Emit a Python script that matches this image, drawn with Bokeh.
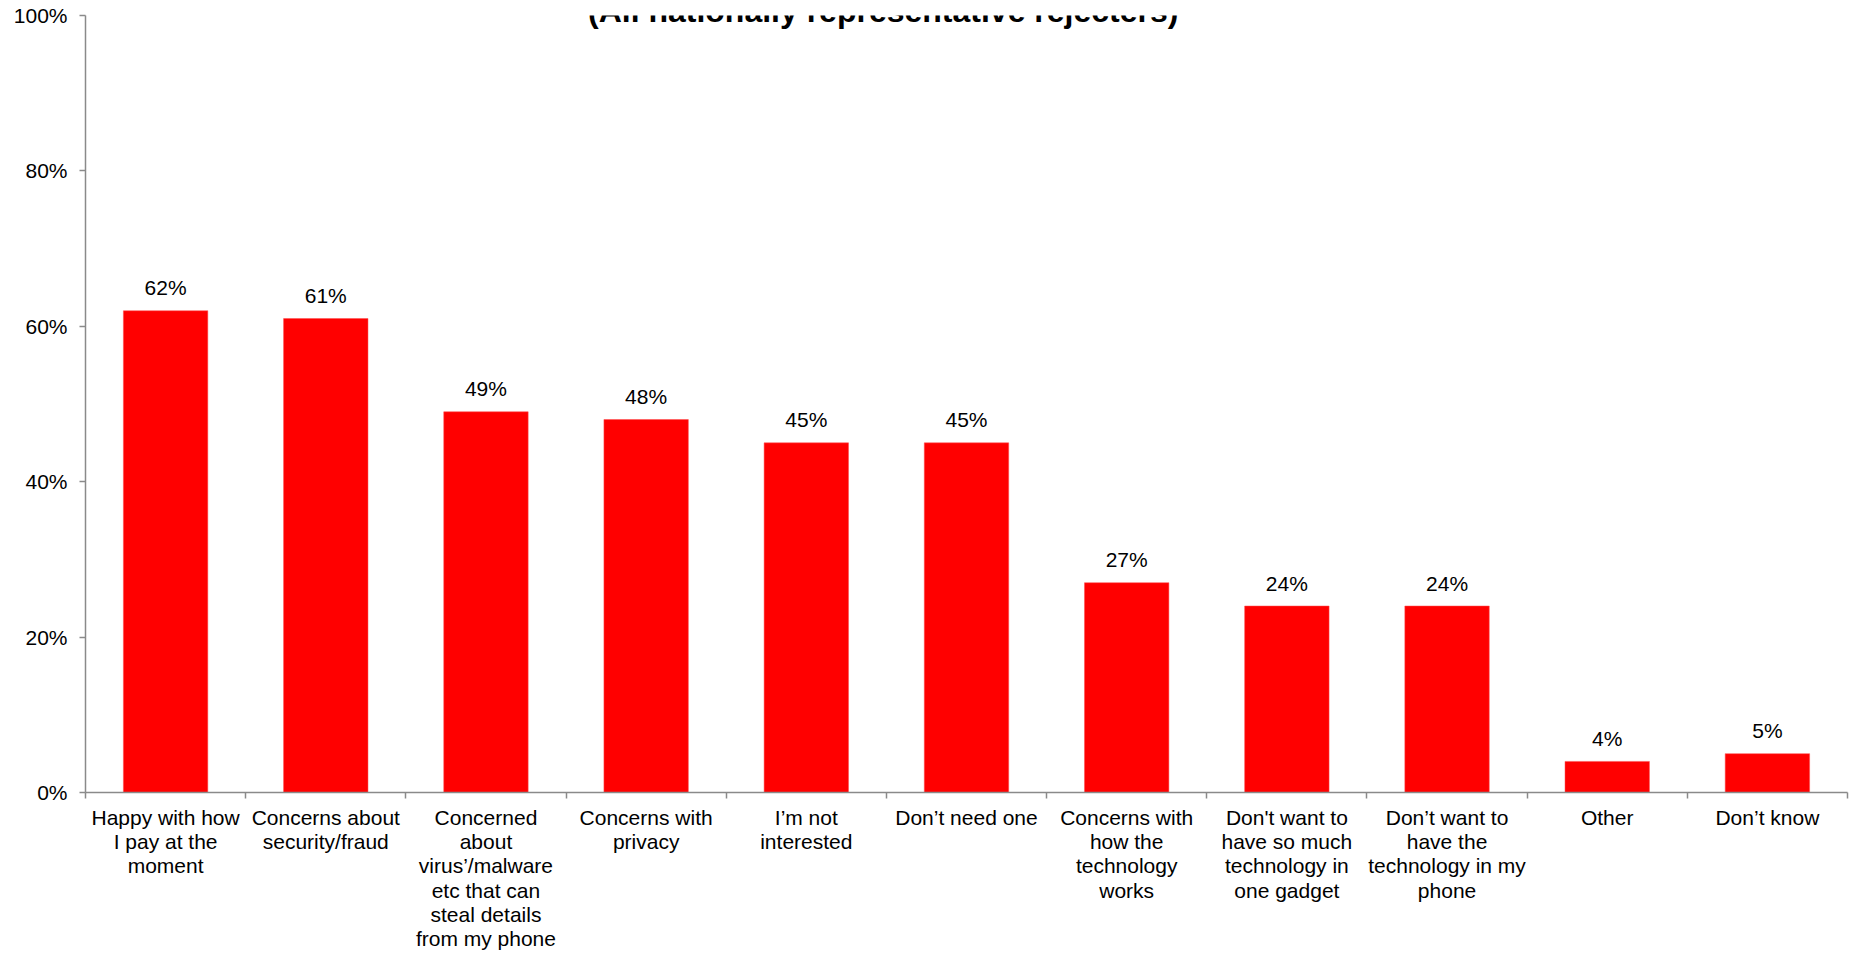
from bokeh.plotting import figure
from bokeh.models import (ColumnDataSource, FixedTicker, Range1d, Label,
                          LinearAxis)
from bokeh.embed import file_html
from bokeh.resources import INLINE
from bokeh.core.properties import value

categories = [
    "Happy with how\nI pay at the\nmoment",
    "Concerns about\nsecurity/fraud",
    "Concerned\nabout\nvirus\u2019/malware\netc that can\nsteal details\nfrom my phone",
    "Concerns with\nprivacy",
    "I\u2019m not\ninterested",
    "Don\u2019t need one",
    "Concerns with\nhow the\ntechnology\nworks",
    "Don't want to\nhave so much\ntechnology in\none gadget",
    "Don\u2019t want to\nhave the\ntechnology in my\nphone",
    "Other",
    "Don\u2019t know",
]
values = [62, 61, 49, 48, 45, 45, 27, 24, 24, 4, 5]
value_labels = [f"{v}%" for v in values]
y_ticks = [0, 20, 40, 60, 80, 100]
y_tick_labels = [f"{t}%" for t in y_ticks]
title_text = "(All nationally representative rejecters)"

n = len(categories)
centers = [i + 0.5 for i in range(n)]
bounds = [float(i) for i in range(n + 1)]

src = ColumnDataSource(dict(x=centers, top=values, lab=value_labels))

FONT = "Liberation Sans"
AXIS_COLOR = "#8a8a8a"

p = figure(frame_width=1762, frame_height=777, output_backend="svg",
           toolbar_location=None, x_range=Range1d(0, n), y_range=Range1d(0, 100),
           min_border_left=85, min_border_right=7, min_border_top=15,
           min_border_bottom=0, x_axis_type=None, y_axis_type=None)
p.title = None
p.outline_line_color = None
p.background_fill_color = "white"
p.border_fill_color = "white"

p.vbar(x="x", top="top", bottom=0, width=0.527, source=src,
       fill_color="#ff0000", line_color="#ff4d4d", line_width=0.5)

p.text(x="x", y="top", text="lab", source=src, text_align="center",
       text_baseline="alphabetic", y_offset=-23,
       text_font=value(FONT), text_font_size="21px", text_color="black")

# y axis
ya = LinearAxis(ticker=FixedTicker(ticks=y_ticks),
                major_label_overrides={t: l for t, l in zip(y_ticks, y_tick_labels)})
ya.axis_line_color = AXIS_COLOR
ya.axis_line_width = 1.5
ya.major_tick_line_color = AXIS_COLOR
ya.major_tick_line_width = 1.5
ya.major_tick_out = 6
ya.major_tick_in = 0
ya.minor_tick_line_color = None
ya.major_label_text_font = FONT
ya.major_label_text_font_size = "21px"
ya.major_label_text_color = "black"
ya.major_label_standoff = 12
p.add_layout(ya, "left")

# x axis: labels at centers, ticks at boundaries (minor ticks)
xa = LinearAxis(ticker=FixedTicker(ticks=centers, minor_ticks=bounds),
                major_label_overrides={c: l for c, l in zip(centers, categories)})
xa.axis_line_color = AXIS_COLOR
xa.axis_line_width = 1.5
xa.major_tick_line_color = None
xa.major_tick_out = 0
xa.major_tick_in = 0
xa.minor_tick_line_color = AXIS_COLOR
xa.minor_tick_line_width = 1.5
xa.minor_tick_out = 6
xa.minor_tick_in = 0
xa.major_label_text_font = FONT
xa.major_label_text_font_size = "21px"
xa.major_label_text_color = "black"
xa.major_label_text_line_height = 1.06
xa.major_label_standoff = 7
xa.major_label_orientation = "horizontal"
p.add_layout(xa, "below")

p.xgrid.visible = False
p.ygrid.visible = False

p.add_layout(Label(x=4.98, y=100.6, text=title_text, text_align="center",
                   text_baseline="alphabetic", text_font=FONT,
                   text_font_size="32px", text_font_style="bold",
                   text_color="black"))

open("out.html", "w").write(file_html(p, INLINE))
